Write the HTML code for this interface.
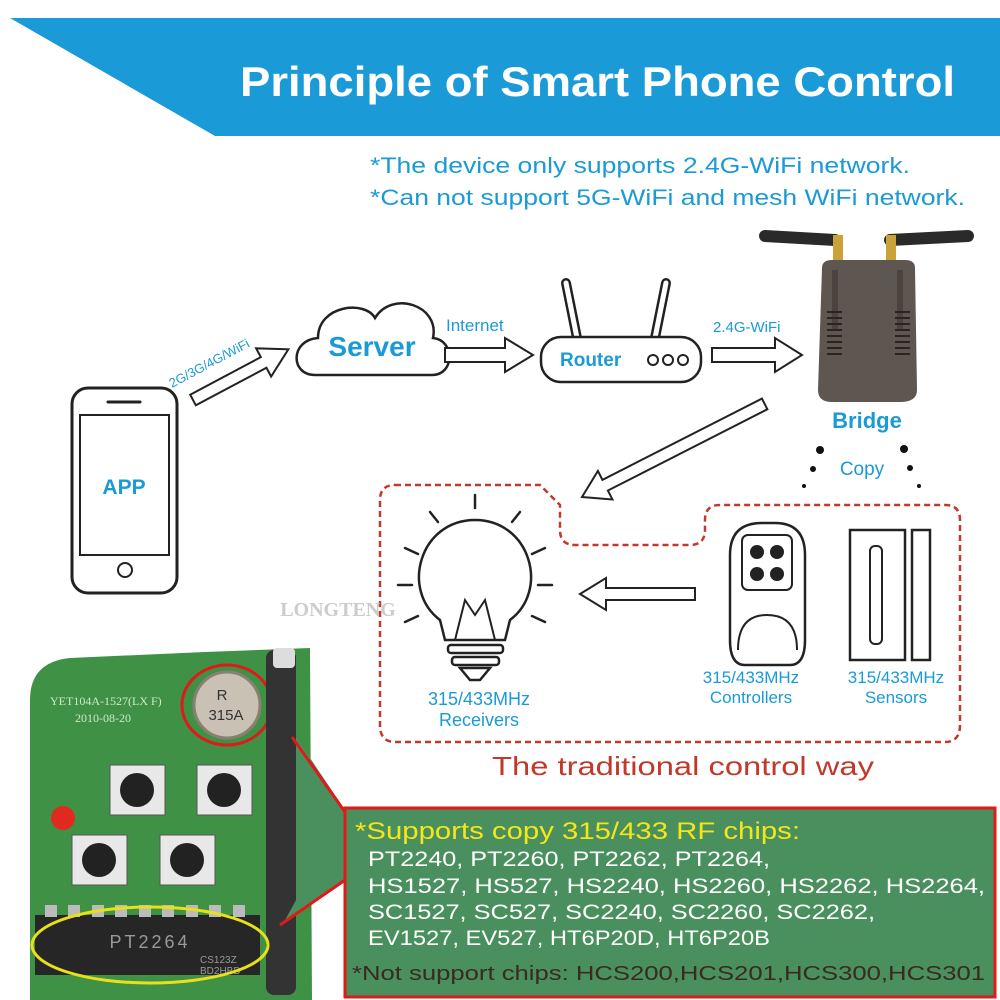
<!DOCTYPE html>
<html><head><meta charset="utf-8"><style>
html,body{margin:0;padding:0;background:#fff}
svg{display:block}
text{font-family:"Liberation Sans",sans-serif}
</style></head><body>
<svg width="1000" height="1000" viewBox="0 0 1000 1000" xmlns="http://www.w3.org/2000/svg">
<rect width="1000" height="1000" fill="#fff"/>
<!-- header -->
<polygon points="10,18 1000,18 1000,136 215,136" fill="#1a9ad6"/>
<text x="240" y="96" font-size="42" font-weight="bold" fill="#fff" textLength="715" lengthAdjust="spacingAndGlyphs">Principle of Smart Phone Control</text>
<text x="370" y="173" font-size="22" fill="#1a9ad6" textLength="540" lengthAdjust="spacingAndGlyphs">*The device only supports 2.4G-WiFi network.</text>
<text x="370" y="205" font-size="22" fill="#1a9ad6" textLength="595" lengthAdjust="spacingAndGlyphs">*Can not support 5G-WiFi and mesh WiFi network.</text>

<!-- phone -->
<rect x="72" y="388" width="105" height="205" rx="16" fill="#fff" stroke="#222" stroke-width="3"/>
<rect x="80" y="415" width="89" height="140" fill="#fff" stroke="#222" stroke-width="2"/>
<line x1="108" y1="402" x2="140" y2="402" stroke="#222" stroke-width="3" stroke-linecap="round"/>
<circle cx="125" cy="570" r="7" fill="none" stroke="#222" stroke-width="2"/>
<text x="124" y="494" font-size="21" font-weight="bold" fill="#1a9ad6" text-anchor="middle">APP</text>

<!-- arrow phone->server -->
<g transform="translate(193,400) rotate(-28)">
<polygon points="0,-6 80,-6 80,-16 108,0 80,16 80,6 0,6" fill="#fff" stroke="#222" stroke-width="2"/>
</g>
<text x="0" y="0" font-size="13" fill="#1a9ad6" transform="translate(172,388) rotate(-28)">2G/3G/4G/WiFi</text>

<!-- cloud -->
<path d="M315,375 C290,375 290,340 318,338 C318,305 365,300 375,318 C392,290 440,305 433,338 C455,340 455,375 432,375 Z" fill="#fff" stroke="#222" stroke-width="2.5"/>
<text x="372" y="356" font-size="28" font-weight="bold" fill="#1a9ad6" text-anchor="middle">Server</text>

<!-- arrow server->router -->
<polygon points="445,348 505,348 505,338 533,355 505,372 505,362 445,362" fill="#fff" stroke="#222" stroke-width="2"/>
<text x="446" y="331" font-size="17" fill="#1a9ad6">Internet</text>

<!-- router -->
<line x1="577" y1="338" x2="566" y2="283" stroke="#222" stroke-width="10" stroke-linecap="round"/>
<line x1="577" y1="338" x2="566" y2="283" stroke="#fff" stroke-width="5" stroke-linecap="round"/>
<line x1="655" y1="338" x2="666" y2="283" stroke="#222" stroke-width="10" stroke-linecap="round"/>
<line x1="655" y1="338" x2="666" y2="283" stroke="#fff" stroke-width="5" stroke-linecap="round"/>
<rect x="541" y="337" width="160" height="45" rx="20" fill="#fff" stroke="#222" stroke-width="2.5"/>
<text x="560" y="366" font-size="19" font-weight="bold" fill="#1a9ad6">Router</text>
<circle cx="653" cy="360" r="5" fill="none" stroke="#222" stroke-width="2"/>
<circle cx="668" cy="360" r="5" fill="none" stroke="#222" stroke-width="2"/>
<circle cx="683" cy="360" r="5" fill="none" stroke="#222" stroke-width="2"/>

<!-- arrow router->bridge -->
<polygon points="712,348 775,348 775,338 802,355 775,372 775,362 712,362" fill="#fff" stroke="#222" stroke-width="2"/>
<text x="713" y="332" font-size="15" fill="#1a9ad6">2.4G-WiFi</text>

<!-- bridge -->
<line x1="765" y1="236" x2="835" y2="240" stroke="#2a2a2a" stroke-width="12" stroke-linecap="round"/>
<line x1="890" y1="240" x2="968" y2="236" stroke="#2a2a2a" stroke-width="12" stroke-linecap="round"/>
<rect x="833" y="235" width="10" height="28" fill="#c9a23a"/>
<rect x="886" y="235" width="10" height="28" fill="#c9a23a"/>
<path d="M822,268 Q822,260 832,260 L905,260 Q915,260 915,268 L917,390 Q917,402 900,402 L832,402 Q818,402 818,390 Z" fill="#5e5651"/>
<path d="M835,270 L835,330 M900,270 L900,330" stroke="#4a433f" stroke-width="6"/>
<g stroke="#2a2523" stroke-width="2">
<line x1="827" y1="312" x2="842" y2="312"/><line x1="827" y1="318" x2="842" y2="318"/><line x1="827" y1="324" x2="842" y2="324"/><line x1="827" y1="330" x2="842" y2="330"/><line x1="827" y1="336" x2="842" y2="336"/><line x1="827" y1="342" x2="842" y2="342"/><line x1="827" y1="348" x2="842" y2="348"/><line x1="827" y1="354" x2="842" y2="354"/>
<line x1="895" y1="312" x2="910" y2="312"/><line x1="895" y1="318" x2="910" y2="318"/><line x1="895" y1="324" x2="910" y2="324"/><line x1="895" y1="330" x2="910" y2="330"/><line x1="895" y1="336" x2="910" y2="336"/><line x1="895" y1="342" x2="910" y2="342"/><line x1="895" y1="348" x2="910" y2="348"/><line x1="895" y1="354" x2="910" y2="354"/>
</g>
<text x="867" y="428" font-size="22" font-weight="bold" fill="#1a9ad6" text-anchor="middle">Bridge</text>
<text x="862" y="475" font-size="19" fill="#1a9ad6" text-anchor="middle">Copy</text>
<circle cx="820" cy="450" r="4" fill="#111"/><circle cx="813" cy="469" r="3" fill="#111"/><circle cx="804" cy="486" r="2" fill="#111"/>
<circle cx="904" cy="449" r="4" fill="#111"/><circle cx="910" cy="468" r="3" fill="#111"/><circle cx="919" cy="486" r="2" fill="#111"/>

<!-- arrow bridge->dashed area -->
<g transform="translate(582,497) rotate(-27)">
<polygon points="0,0 26,-16 26,-6 205,-6 205,6 26,6 26,16" fill="#fff" stroke="#222" stroke-width="2"/>
</g>

<!-- dashed area -->
<path d="M395,485 L540,485 L560,505 L560,530 Q560,545 575,545 L690,545 Q705,545 705,530 L705,520 Q705,505 720,505 L945,505 Q960,505 960,520 L960,725 Q960,742 945,742 L395,742 Q380,742 380,725 L380,500 Q380,485 395,485 Z" fill="none" stroke="#c0392b" stroke-width="2.5" stroke-dasharray="6,4"/>

<!-- bulb -->
<g stroke="#222" stroke-width="2.5" fill="#fff">
<path d="M440,620 C400,590 420,520 475,520 C530,520 550,590 510,620 L505,640 L445,640 Z"/>
<rect x="448" y="645" width="55" height="8" rx="3"/>
<rect x="452" y="657" width="47" height="8" rx="3"/>
<path d="M460,668 L490,668 L480,680 L470,680 Z"/>
<path d="M455,640 L465,600 L475,615 L485,600 L495,640" fill="none" stroke-width="2"/>
</g>
<g stroke="#222" stroke-width="2.5" stroke-linecap="round">
<line x1="475" y1="495" x2="475" y2="508"/><line x1="430" y1="512" x2="438" y2="522"/><line x1="520" y1="512" x2="512" y2="522"/>
<line x1="405" y1="548" x2="418" y2="554"/><line x1="545" y1="548" x2="532" y2="554"/>
<line x1="398" y1="585" x2="412" y2="585"/><line x1="552" y1="585" x2="538" y2="585"/>
<line x1="405" y1="622" x2="418" y2="616"/><line x1="545" y1="622" x2="532" y2="616"/>
</g>
<text x="479" y="705" font-size="18" fill="#1a9ad6" text-anchor="middle">315/433MHz</text>
<text x="479" y="726" font-size="18" fill="#1a9ad6" text-anchor="middle">Receivers</text>

<!-- arrow controllers->bulb -->
<polygon points="580,594 606,578 606,588 695,588 695,600 606,600 606,610" fill="#fff" stroke="#222" stroke-width="2"/>

<!-- remote controller -->
<path d="M730,555 Q730,523 762,523 L775,523 Q805,523 805,555 L805,640 Q805,665 790,665 L745,665 Q730,665 730,640 Z" fill="#fff" stroke="#222" stroke-width="2.5"/>
<rect x="742" y="535" width="50" height="55" rx="6" fill="#fff" stroke="#222" stroke-width="2"/>
<circle cx="757" cy="552" r="7" fill="#222"/><circle cx="777" cy="552" r="7" fill="#222"/>
<circle cx="757" cy="574" r="7" fill="#222"/><circle cx="777" cy="574" r="7" fill="#222"/>
<path d="M738,650 Q738,615 767,615 Q797,615 797,650" fill="none" stroke="#222" stroke-width="2"/>
<text x="751" y="683" font-size="17" fill="#1a9ad6" text-anchor="middle">315/433MHz</text>
<text x="751" y="703" font-size="17" fill="#1a9ad6" text-anchor="middle">Controllers</text>

<!-- sensor -->
<rect x="850" y="530" width="55" height="130" fill="#fff" stroke="#222" stroke-width="2.5"/>
<rect x="870" y="546" width="12" height="98" rx="5" fill="#fff" stroke="#222" stroke-width="2"/>
<rect x="912" y="530" width="18" height="130" fill="#fff" stroke="#222" stroke-width="2.5"/>
<text x="896" y="683" font-size="17" fill="#1a9ad6" text-anchor="middle">315/433MHz</text>
<text x="896" y="703" font-size="17" fill="#1a9ad6" text-anchor="middle">Sensors</text>

<text x="492" y="775" font-size="26" fill="#c0392b" textLength="382" lengthAdjust="spacingAndGlyphs">The traditional control way</text>
<text x="338" y="616" font-size="20" font-weight="bold" fill="#ccc" text-anchor="middle" style="font-family:'Liberation Serif',serif">LONGTENG</text>

<!-- PCB -->
<path d="M30,700 Q30,662 70,658 L205,652 L310,648 L312,1000 L30,1000 Z" fill="#3f9146"/>
<text x="50" y="705" font-size="12" fill="#cfe9c8" style="font-family:'Liberation Serif',serif">YET104A-1527(LX F)</text>
<text x="75" y="722" font-size="12" fill="#cfe9c8" style="font-family:'Liberation Serif',serif">2010-08-20</text>
<circle cx="227" cy="705" r="33" fill="#c9c1b4" stroke="#8a8070" stroke-width="3"/>
<text x="222" y="700" font-size="15" fill="#333" text-anchor="middle">R</text>
<text x="226" y="720" font-size="15" fill="#333" text-anchor="middle">315A</text>
<ellipse cx="227" cy="705" rx="45" ry="40" fill="none" stroke="#e01a1a" stroke-width="3"/>
<rect x="266" y="650" width="30" height="345" rx="8" fill="#333"/>
<rect x="273" y="648" width="22" height="20" rx="4" fill="#ddd"/>
<g fill="#e8e8e8" stroke="#555" stroke-width="1">
<rect x="110" y="765" width="55" height="50"/><rect x="197" y="765" width="55" height="50"/>
<rect x="72" y="835" width="55" height="50"/><rect x="160" y="835" width="55" height="50"/>
</g>
<circle cx="137" cy="790" r="17" fill="#222"/><circle cx="224" cy="790" r="17" fill="#222"/>
<circle cx="99" cy="860" r="17" fill="#222"/><circle cx="187" cy="860" r="17" fill="#222"/>
<circle cx="63" cy="818" r="12" fill="#e02a20"/>
<rect x="35" y="915" width="225" height="60" fill="#262626"/>
<g fill="#bbb"><rect x="45" y="905" width="12" height="12"/><rect x="68" y="905" width="12" height="12"/><rect x="92" y="905" width="12" height="12"/><rect x="115" y="905" width="12" height="12"/><rect x="139" y="905" width="12" height="12"/><rect x="162" y="905" width="12" height="12"/><rect x="186" y="905" width="12" height="12"/><rect x="209" y="905" width="12" height="12"/><rect x="233" y="905" width="12" height="12"/></g>
<text x="150" y="948" font-size="18" fill="#999" text-anchor="middle" letter-spacing="3">PT2264</text>
<text x="200" y="963" font-size="10" fill="#999">CS123Z</text>
<text x="200" y="974" font-size="10" fill="#999">BD2HBD</text>
<ellipse cx="150" cy="945" rx="118" ry="38" fill="none" stroke="#e8e01a" stroke-width="3"/>

<!-- callout -->
<polygon points="296,737 345,810 345,882 283,924 296,900 296,760" fill="#4a8f5e"/>
<line x1="292" y1="737" x2="345" y2="812" stroke="#e01a1a" stroke-width="3"/>
<line x1="280" y1="925" x2="345" y2="880" stroke="#e01a1a" stroke-width="3"/>
<rect x="345" y="808" width="650" height="189" fill="#4a8f5e" stroke="#e01a1a" stroke-width="3"/>
<text x="355" y="839" font-size="24" fill="#f5e61a" textLength="445" lengthAdjust="spacingAndGlyphs">*Supports copy 315/433 RF chips:</text>
<g font-size="21" fill="#fff">
<text x="368" y="866" textLength="402" lengthAdjust="spacingAndGlyphs">PT2240, PT2260, PT2262, PT2264,</text>
<text x="368" y="893" textLength="617" lengthAdjust="spacingAndGlyphs">HS1527, HS527, HS2240, HS2260, HS2262, HS2264,</text>
<text x="368" y="919" textLength="507" lengthAdjust="spacingAndGlyphs">SC1527, SC527, SC2240, SC2260, SC2262,</text>
<text x="368" y="945" textLength="402" lengthAdjust="spacingAndGlyphs">EV1527, EV527, HT6P20D, HT6P20B</text>
</g>
<text x="352" y="980" font-size="20" fill="#3a2a20" textLength="633" lengthAdjust="spacingAndGlyphs">*Not support chips: HCS200,HCS201,HCS300,HCS301</text>
</svg>
</body></html>
